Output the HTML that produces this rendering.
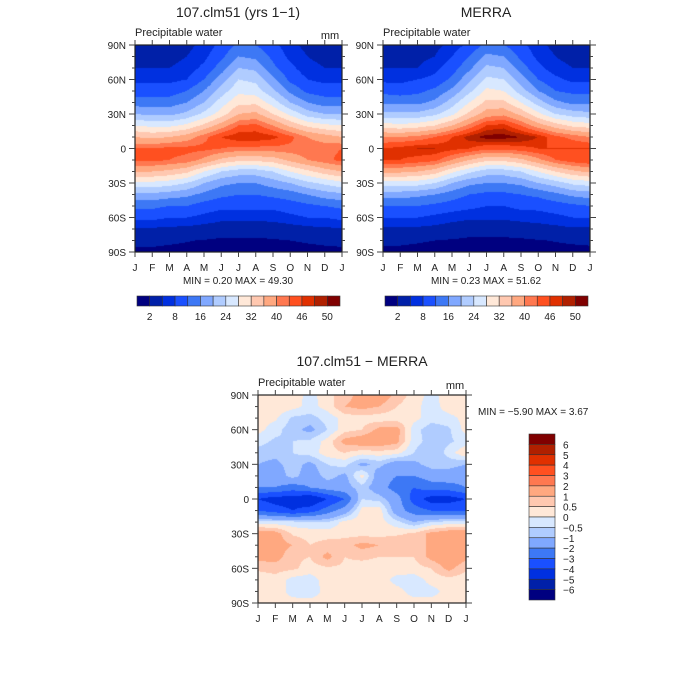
<!DOCTYPE html>
<html><head><meta charset="utf-8">
<style>
body{margin:0;background:#fff;}
#root{position:relative;width:700px;height:700px;overflow:hidden;font-family:"Liberation Sans",sans-serif;}
canvas{position:absolute;}
svg{position:absolute;left:0;top:0;}
</style></head>
<body>
<div id="root">
<canvas id="c1" width="207" height="207" style="left:135px;top:45px"></canvas>
<canvas id="c2" width="207" height="207" style="left:383px;top:45px"></canvas>
<canvas id="c3" width="208" height="208" style="left:258px;top:395px"></canvas>
<svg id="ov" width="700" height="700"></svg>
</div>
<script>
const months=["J","F","M","A","M","J","J","A","S","O","N","D","J"];
const latLabels=["90N","60N","30N","0","30S","60S","90S"];
const palette=["#000080","#0020a8","#0030e0","#1a50ff","#3d78f5","#80a8ff","#b0ccff","#d8e8ff","#ffe8d8","#ffc8b0","#ffa880","#ff7850","#ff5020","#e03000","#b02000","#800000"];
const pwLevels=[2,5,8,12,16,20,24,28,32,36,40,43,46,48,50];
const pwLabels=["2","8","16","24","32","40","46","50"];
const diffLevels=[-6,-5,-4,-3,-2,-1,-0.5,0,0.5,1,2,3,4,5,6];
const diffLabels=["6","5","4","3","2","1","0.5","0","\u22120.5","\u22121","\u22122","\u22123","\u22124","\u22125","\u22126"];
const model=[
[3,3,3,4,6,9,13,12,9,6,4,3,3],
[4,4,4,5,7,11,16,15,11,7,5,4,4],
[5,5,5,6,9,14,20,19,13,9,6,5,5],
[7,7,7,8,12,18,24,23,17,11,8,7,7],
[10,10,10,12,16,22,27,26,21,15,11,10,10],
[14,14,14,16,20,26,31,31,26,20,16,14,14],
[20,19,19,21,25,30,36,37,32,27,22,20,20],
[28,27,27,29,33,38,43,44,40,35,31,29,28],
[36,35,36,38,42,46,48,48,47,44,40,38,36],
[43,43,44,44,44,43,42,42,42,42,42,42,43],
[44,44,43,42,39,35,33,33,34,37,40,42,44],
[36,36,35,33,28,24,22,22,24,28,31,34,36],
[27,27,26,24,20,17,16,16,18,20,23,25,27],
[19,19,18,17,15,13,12,12,13,14,16,18,19],
[13,13,12,12,10,9,9,9,9,10,11,12,13],
[9,9,8,8,7,6,6,6,6,7,8,8,9],
[4.5,4.5,4.3,4,3.5,3,3,3,3.2,3.5,4,4.5,4.5],
[2.5,2.5,2.3,2.1,1.9,1.7,1.7,1.7,1.8,2,2.2,2.4,2.5],
[1.6,1.6,1.5,1.4,1.3,1.2,1.2,1.2,1.2,1.3,1.4,1.5,1.6]];
const merra=[
[3,3,3,4,6,9,13,12,9,6,4,3,3],
[4,4,4,5,8,12,17,16,11,7,5,4,4],
[5,5,5,7,10,15,21,20,14,9,6,5,5],
[7,7,8,9,13,19,25,24,18,12,9,7,7],
[11,10,11,13,17,23,29,28,22,16,12,11,11],
[15,15,15,17,22,28,33,33,28,22,17,15,15],
[21,21,21,23,27,33,38,39,35,29,24,22,21],
[30,29,30,32,36,41,46,47,43,38,34,31,30],
[40,40,41,43,46,49,51,51,50,48,44,42,40],
[46,47,48,48,47,46,44,44,45,46,46,46,46],
[46,46,45,44,40,36,33,33,35,39,43,45,46],
[37,37,36,34,29,25,22,22,24,28,32,35,37],
[26,26,26,24,20,17,16,16,17,20,22,25,26],
[18,18,17,16,14,12,11,11,12,13,15,17,18],
[12,12,12,11,10,9,8,8,9,9,10,11,12],
[8,8,8,7,6,5.5,5.5,5.5,6,6.5,7,8,8],
[4.5,4.5,4.3,4,3.5,3,3,3,3.2,3.5,4,4.5,4.5],
[2.4,2.4,2.2,2,1.8,1.6,1.6,1.6,1.7,1.9,2.1,2.3,2.4],
[1.5,1.5,1.4,1.3,1.2,1.1,1.1,1.1,1.1,1.2,1.3,1.4,1.5]];
const diff=[
[0.3,0.3,0.3,-0.2,0.3,0.8,1.2,1.5,0.8,0.3,-0.2,0.3,0.3],
[0.3,0.3,0.2,-0.2,0.2,1,1.2,1,0.5,0.2,-0.3,0.3,0.3],
[0.2,0.1,-0.6,-0.7,-0.3,0.2,0.3,0.2,0.2,0.2,-0.3,-0.2,0.2],
[0.2,-0.3,-0.8,-1.2,-0.5,0.3,0.5,1.2,1.3,-0.3,-0.8,-0.6,0.2],
[-0.3,-0.6,-0.5,-0.4,0.2,1.2,1.5,1.5,1.2,-0.3,-0.7,-0.6,-0.3],
[-0.7,-0.8,-0.5,-0.3,0.3,0.5,0.2,0.3,0.2,-0.5,-1,-0.3,0.5],
[-1,-1.2,-0.7,-1.2,-0.5,-0.3,-1.2,-0.8,-1.5,-1.2,-0.7,-0.8,-1],
[-1.5,-1.5,-0.7,-1.5,-0.7,-1.2,0.2,-1.5,-2,-2,-1.5,-1.3,-1.5],
[-2,-2,-2.5,-2,-1.5,-1.3,-0.7,-1.5,-2.5,-3,-2.5,-2.5,-2],
[-4,-4.5,-4.5,-5,-4,-3,-0.5,-0.7,-1.5,-3.5,-4.5,-4.5,-4],
[-3,-3.5,-4,-3.5,-2.5,-1.5,0.2,0.3,-1.5,-2.5,-3,-3,-3],
[-0.3,-0.3,-0.3,-0.4,-0.5,0.2,0.3,0.2,-0.3,-1,-0.5,-0.3,-0.3],
[1.5,1.3,0.4,0.3,0.3,0.3,0.3,0.3,0.4,0.6,1.2,1.5,1.5],
[1.5,1.3,1,0.5,0.7,0.8,1.2,1,1,0.6,1.2,1.5,1.5],
[1.2,1.3,0.6,0.5,1.2,0.5,0.6,0.5,0.5,0.5,1.2,1.5,1.2],
[0.6,0.7,0.6,0.3,0.4,0.4,0.3,0.3,0.3,0.3,0.5,1.2,0.6],
[0.2,0.3,-0.2,-0.3,0.3,0.2,0.2,0.3,-0.2,-0.3,0.2,0.3,0.2],
[0.2,0.3,-0.2,-0.3,0.2,0.3,0.2,0.3,0.2,-0.2,-0.2,0.2,0.2],
[0.2,0.2,0.2,0.2,0.2,0.2,0.2,0.2,0.2,0.2,0.2,0.2,0.2]];

function hex(c){return [parseInt(c.slice(1,3),16),parseInt(c.slice(3,5),16),parseInt(c.slice(5,7),16)];}
const rgb=palette.map(hex);
function levelIdx(v,lev){let i=0;while(i<lev.length&&v>=lev[i])i++;return i;}
function drawField(id,grid,lev){
  const cv=document.getElementById(id),ctx=cv.getContext('2d');
  const W=cv.width,H=cv.height,img=ctx.createImageData(W,H);
  const nr=grid.length,nc=grid[0].length;
  for(let y=0;y<H;y++){
    const fy=(y+0.5)/H*(nr-1),r0=Math.min(Math.floor(fy),nr-2),ty=fy-r0;
    for(let x=0;x<W;x++){
      const fx=(x+0.5)/W*(nc-1),c0=Math.min(Math.floor(fx),nc-2),tx=fx-c0;
      const v=(grid[r0][c0]*(1-tx)+grid[r0][c0+1]*tx)*(1-ty)+(grid[r0+1][c0]*(1-tx)+grid[r0+1][c0+1]*tx)*ty;
      const col=rgb[levelIdx(v,lev)],k=(y*W+x)*4;
      img.data[k]=col[0];img.data[k+1]=col[1];img.data[k+2]=col[2];img.data[k+3]=255;
    }
  }
  ctx.putImageData(img,0,0);
}
drawField('c1',model,pwLevels);
drawField('c2',merra,pwLevels);
drawField('c3',diff,diffLevels);

const ov=document.getElementById('ov');
const NS='http://www.w3.org/2000/svg';
function el(tag,attrs,txt){const e=document.createElementNS(NS,tag);for(const k in attrs)e.setAttribute(k,attrs[k]);if(txt!==undefined)e.textContent=txt;ov.appendChild(e);return e;}
function text(x,y,s,size,anchor,name){
  const t=el('text',{x:x,y:y,'font-size':size,'text-anchor':anchor||'start',fill:'#222','font-family':'Liberation Sans, sans-serif'},s);
  
  
  return t;
}
function axes(x0,y0,w,h,pfx){
  const fr=el('rect',{x:x0,y:y0,width:w,height:h,fill:'none',stroke:'#222','stroke-width':1.2});
  
  
  for(let i=0;i<months.length;i++){
    const x=x0+i*w/(months.length-1);
    el('line',{x1:x,y1:y0,x2:x,y2:y0-5,stroke:'#444'});
    el('line',{x1:x,y1:y0+h,x2:x,y2:y0+h+5,stroke:'#444'});
    text(x,y0+h+19,months[i],10,'middle',pfx+'-x-tick-label');
  }
  for(let i=0;i<=18;i++){
    const y=y0+i*h/18,len=(i%3===0)?6:3;
    el('line',{x1:x0,y1:y,x2:x0-len,y2:y,stroke:'#444'});
    el('line',{x1:x0+w,y1:y,x2:x0+w+len,y2:y,stroke:'#444'});
    if(i%3===0)text(x0-9,y+4,latLabels[i/3],10,'end',pfx+'-y-tick-label');
  }
}
function hbar(x0,y0,w,h,lev,labels,pfx){
  const n=palette.length,bw=w/n;
  for(let i=0;i<n;i++){
    const r=el('rect',{x:x0+i*bw,y:y0,width:bw,height:h,fill:palette[i],stroke:'#333','stroke-width':0.6});
    
    
  }
  for(let j=0;j<labels.length;j++){
    text(x0+(2*j+1)*bw,y0+h+14,labels[j],10,'middle',pfx+'-colorbar-label');
  }
}
axes(135,45,207,207,'model');
axes(383,45,207,207,'merra');
axes(258,395,208,208,'diff');
text(238,17,'107.clm51 (yrs 1\u22121)',14,'middle','model-title');
text(486,17,'MERRA',14,'middle','merra-title');
text(135,36,'Precipitable water',11,'start','model-subtitle');
text(383,36,'Precipitable water',11,'start','merra-subtitle');
text(330,39,'mm',11,'middle','model-units');
text(362,366,'107.clm51 \u2212 MERRA',14,'middle','diff-title');
text(258,386,'Precipitable water',11,'start','diff-subtitle');
text(455,389,'mm',11,'middle','diff-units');
text(238,284,'MIN =    0.20  MAX =   49.30',10,'middle','model-minmax');
text(486,284,'MIN =    0.23  MAX =   51.62',10,'middle','merra-minmax');
text(478,415,'MIN =   \u22125.90  MAX =     3.67',10,'start','diff-minmax');
hbar(137,296,203,10,pwLevels,pwLabels,'model');
hbar(385,296,203,10,pwLevels,pwLabels,'merra');
(function(){
  const x0=529,y0=434,w=26,h=166,n=palette.length,bh=h/n;
  for(let i=0;i<n;i++){
    const r=el('rect',{x:x0,y:y0+i*bh,width:w,height:bh,fill:palette[n-1-i],stroke:'#333','stroke-width':0.6});
    
    
  }
  for(let j=0;j<diffLabels.length;j++){
    text(x0+w+8,y0+(j+1)*bh+4,diffLabels[j],10,'start','diff-colorbar-label');
  }
})();
</script>
</body></html>
